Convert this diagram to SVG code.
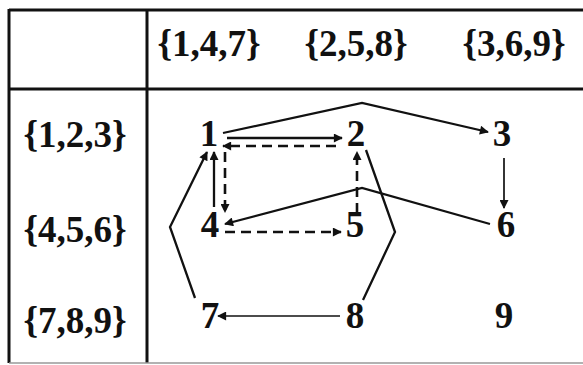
<svg xmlns="http://www.w3.org/2000/svg" width="583" height="365" viewBox="0 0 583 365">
<defs>
<style>
.t{font-family:"Liberation Serif","Times New Roman",serif;font-weight:bold;font-size:37px;fill:#111;text-anchor:middle}
.n{font-family:"Liberation Serif","Times New Roman",serif;font-weight:bold;font-size:37px;fill:#111;text-anchor:middle}
.grid{stroke:#111;stroke-width:3;fill:none}
.e{stroke:#111;stroke-width:2.3;fill:none}
.thin{stroke:#111;stroke-width:1.7;fill:none}
.d{stroke:#111;stroke-width:2.6;fill:none;stroke-dasharray:10,6}
</style>
<marker id="ah" viewBox="0 0 10 10" refX="9" refY="5" markerWidth="11" markerHeight="9" markerUnits="userSpaceOnUse" orient="auto">
<path d="M0,0 L10,5 L0,10 z" fill="#111"/>
</marker>
</defs>
<rect width="583" height="365" fill="#fff"/>
<g id="table">
<line class="grid" x1="9" y1="10" x2="583" y2="10"/>
<line class="grid" x1="9" y1="89" x2="583" y2="89"/>
<line class="grid" x1="9" y1="9" x2="9" y2="363"/>
<line class="grid" x1="147" y1="9" x2="147" y2="363"/>
<line x1="9" y1="363" x2="583" y2="363" stroke="#999" stroke-width="1.5"/>
<text class="t" x="209" y="56">{1,4,7}</text>
<text class="t" x="356" y="56">{2,5,8}</text>
<text class="t" x="514" y="56">{3,6,9}</text>
<text class="t" x="75" y="147">{1,2,3}</text>
<text class="t" x="75" y="242">{4,5,6}</text>
<text class="t" x="75" y="333">{7,8,9}</text>
</g>
<g id="connectors">
<line class="e" x1="227" y1="138" x2="342" y2="138" marker-end="url(#ah)"/>
<line class="d" x1="336" y1="146" x2="223" y2="146" marker-end="url(#ah)"/>
<polyline class="e" points="223,133 362,103 488,132" marker-end="url(#ah)"/>
<line class="d" x1="225" y1="152" x2="225" y2="212" marker-end="url(#ah)"/>
<line class="e" x1="214" y1="207" x2="214" y2="152" marker-end="url(#ah)"/>
<line class="d" x1="357" y1="213" x2="357" y2="152" marker-end="url(#ah)"/>
<line class="d" x1="225" y1="232" x2="341" y2="232" marker-end="url(#ah)"/>
<polyline class="e" points="490,224 362,188 225,224" marker-end="url(#ah)"/>
<line class="thin" x1="504" y1="158" x2="504" y2="208" marker-end="url(#ah)"/>
<line class="thin" x1="340" y1="316" x2="218" y2="316" marker-end="url(#ah)"/>
<polyline class="e" points="195,298 170,227 207,152" marker-end="url(#ah)"/>
<polyline class="e" points="366,150 395,232 363,300"/>
</g>
<g id="n1"><text class="n" x="209" y="146">1</text></g>
<g id="n2"><text class="n" x="356" y="146">2</text></g>
<g id="n3"><text class="n" x="502" y="146">3</text></g>
<g id="n4"><text class="n" x="210" y="237">4</text></g>
<g id="n5"><text class="n" x="355" y="237">5</text></g>
<g id="n6"><text class="n" x="506" y="237">6</text></g>
<g id="n7"><text class="n" x="210" y="328">7</text></g>
<g id="n8"><text class="n" x="355" y="328">8</text></g>
<g id="n9"><text class="n" x="504" y="328">9</text></g>
</svg>
